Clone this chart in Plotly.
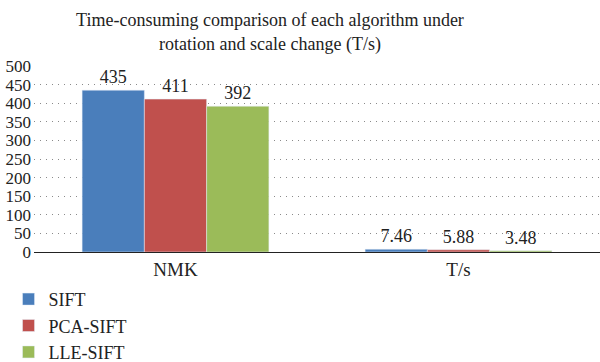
import plotly.graph_objects as go

categories = ["NMK", "T/s"]
series_names = ["SIFT", "PCA-SIFT", "LLE-SIFT"]
sift = [435, 7.46]
pca_sift = [411, 5.88]
lle_sift = [392, 3.48]
labels_sift = ["435", "7.46"]
labels_pca = ["411", "5.88"]
labels_lle = ["392", "3.48"]
y_ticks = [0, 50, 100, 150, 200, 250, 300, 350, 400, 450, 500]

colors = ["#4a7ebb", "#c0504d", "#9bbb59"]
font_family = "Liberation Serif, Times New Roman, serif"

fig = go.Figure()
for name, vals, labs, col in zip(series_names, [sift, pca_sift, lle_sift],
                                 [labels_sift, labels_pca, labels_lle], colors):
    fig.add_trace(go.Bar(
        x=categories, y=vals, name=name, marker_color=col,
        text=labs, textposition="outside", cliponaxis=False,
        textfont=dict(family=font_family, size=18, color="#222"),
    ))

fig.update_layout(
    width=600, height=362,
    margin=dict(l=34, r=0, t=66, b=110, autoexpand=False),
    paper_bgcolor="white", plot_bgcolor="white",
    barmode="group", bargap=0.34, bargroupgap=0,
    title=dict(text="Time-consuming comparison of each algorithm under<br>rotation and scale change (T/s)",
               x=0.45, xanchor="center", xref="container", y=0.927, yref="container", yanchor="top",
               font=dict(family=font_family, size=18, color="#222")),
    font=dict(family=font_family, size=18, color="#222"),
    showlegend=True,
    legend=dict(orientation="v", x=-0.045, xanchor="left", y=0.224, yref="container", yanchor="top",
                font=dict(family=font_family, size=18, color="#222"),
                itemwidth=30, tracegroupgap=0, bgcolor="rgba(0,0,0,0)"),
)
fig.update_xaxes(showline=True, linecolor="#222", linewidth=1.2, ticks="",
                 tickfont=dict(family=font_family, size=19, color="#222"))
fig.update_yaxes(range=[0, 500], tickvals=y_ticks, showgrid=True, gridcolor="#8a8a8a",
                 griddash="1px,5px", gridwidth=1, zeroline=False, ticks="",
                 ticklabelstandoff=2,
                 tickfont=dict(family=font_family, size=17, color="#222"))

fig.write_html("out.html", config={"displayModeBar": False},
               post_script="document.body.style.margin='0';document.body.style.padding='0';")
